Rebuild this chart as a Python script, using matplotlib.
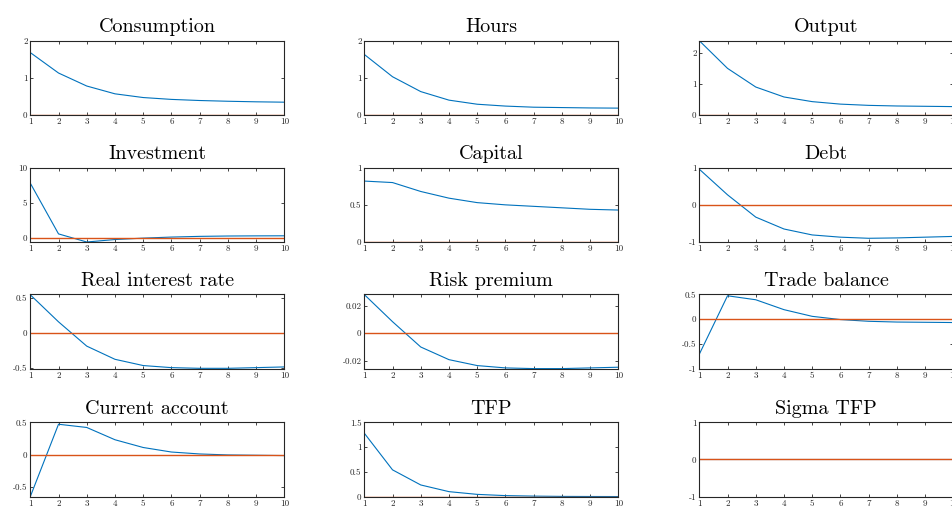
import matplotlib
matplotlib.use("Agg")
import matplotlib.pyplot as plt
from matplotlib.ticker import FuncFormatter

plt.rcParams['font.family'] = ['cmr10', 'DejaVu Serif']
plt.rcParams['axes.unicode_minus'] = False
plt.rcParams['mathtext.fontset'] = 'cm'

periods = list(range(1, 11))

titles = ["Consumption", "Hours", "Output",
          "Investment", "Capital", "Debt",
          "Real interest rate", "Risk premium", "Trade balance",
          "Current account", "TFP", "Sigma TFP"]

consumption = [1.68, 1.13, 0.78, 0.57, 0.47, 0.42, 0.39, 0.37, 0.355, 0.345]
hours = [1.63, 1.03, 0.63, 0.40, 0.29, 0.24, 0.21, 0.20, 0.19, 0.185]
output = [2.39, 1.50, 0.90, 0.58, 0.43, 0.35, 0.31, 0.29, 0.28, 0.27]
investment = [7.8, 0.6, -0.55, -0.2, 0.0, 0.15, 0.25, 0.30, 0.32, 0.33]
capital = [0.82, 0.80, 0.68, 0.59, 0.53, 0.50, 0.48, 0.46, 0.44, 0.43]
debt = [0.96, 0.27, -0.33, -0.65, -0.81, -0.87, -0.90, -0.89, -0.87, -0.85]
real_rate = [0.55, 0.16, -0.19, -0.38, -0.47, -0.50, -0.51, -0.51, -0.50, -0.49]
risk_premium = [0.028, 0.0083, -0.0101, -0.0193, -0.0236, -0.0253, -0.0258, -0.0258, -0.0253, -0.0248]
trade_balance = [-0.71, 0.47, 0.39, 0.19, 0.055, -0.01, -0.045, -0.06, -0.065, -0.07]
current_account = [-0.65, 0.47, 0.42, 0.23, 0.11, 0.04, 0.01, -0.005, -0.01, -0.015]
tfp = [1.28, 0.54, 0.235, 0.10, 0.045, 0.02, 0.01, 0.004, 0.002, 0.001]
sigma_tfp = [0, 0, 0, 0, 0, 0, 0, 0, 0, 0]

series = [consumption, hours, output, investment, capital, debt,
          real_rate, risk_premium, trade_balance, current_account, tfp, sigma_tfp]

ylims = [(0, 2), (0, 2), (0, 2.39),
         (-0.55, 10), (0, 1), (-1, 1),
         (-0.514, 0.557), (-0.0258, 0.0282), (-1, 0.5),
         (-0.65, 0.5), (0, 1.5), (-1, 1)]

yticks = [[0, 1, 2], [0, 1, 2], [0, 1, 2],
          [0, 5, 10], [0, 0.5, 1], [-1, 0, 1],
          [-0.5, 0, 0.5], [-0.02, 0, 0.02], [-1, -0.5, 0, 0.5],
          [-0.5, 0, 0.5], [0, 0.5, 1, 1.5], [-1, 0, 1]]

W, H = 953, 507
fig = plt.figure(figsize=(W / 100, H / 100), dpi=100)

col_left = [30.3, 364.3, 699.3]
row_top = [40.7, 167.7, 294.3, 422.3]
aw, ah = 254.0, 74.3

blue = (0.0, 0.447, 0.741)
orange = (0.85, 0.325, 0.098)
axcol = (0.15, 0.15, 0.15)

for i, (t, s) in enumerate(zip(titles, series)):
    r, c = divmod(i, 3)
    x0 = col_left[c] / W
    y0 = 1 - (row_top[r] + ah) / H
    ax = fig.add_axes([x0, y0, aw / W, ah / H])
    ax.plot(periods, s, color=blue, lw=0.8)
    ax.plot(periods, [0] * len(periods), color=orange, lw=1.0)
    ax.set_xlim(1, 10)
    ax.set_ylim(*ylims[i])
    ax.set_xticks(periods)
    ax.set_yticks(yticks[i])
    ax.yaxis.set_major_formatter(FuncFormatter(lambda v, p: '%g' % v))
    ax.tick_params(direction='in', length=2.2, width=0.6, colors=axcol,
                   labelsize=6.5, top=True, right=True, pad=2)
    for sp in ax.spines.values():
        sp.set_color(axcol)
        sp.set_linewidth(0.8)
    ax.set_title(t, fontsize=14.5, pad=6.0, color='black')

fig.savefig("out.png", dpi=100)
